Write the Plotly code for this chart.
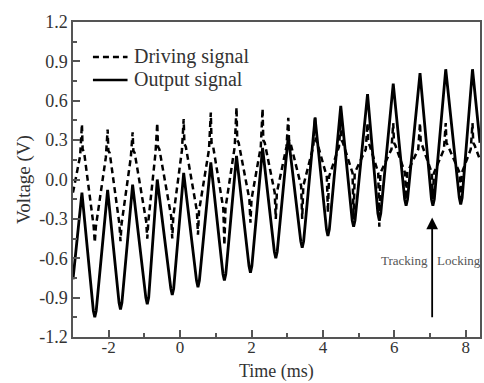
import plotly.graph_objects as go

# ---- data ----
out_t = [-3.0, -2.75, -2.43, -2.39, -2.35, -2.03, -1.71, -1.67, -1.63, -1.33, -0.96, -0.92, -0.88,
         -0.64, -0.26, -0.22, -0.18, 0.10, 0.46, 0.50, 0.54, 0.86,
         1.20, 1.24, 1.28, 1.58, 1.93, 1.97, 2.01, 2.31, 2.64, 2.68, 2.72, 3.03, 3.38, 3.42, 3.46,
         3.78, 4.10, 4.14, 4.18, 4.50, 4.82, 4.86, 4.90, 5.25, 5.54, 5.58, 5.62,
         5.97, 6.29, 6.33, 6.37, 6.72, 7.04, 7.08, 7.12, 7.44, 7.82, 7.86, 7.90, 8.19, 8.40]
out_v = [-0.76, -0.10, -1.00, -1.05, -1.00, -0.08, -0.94, -0.99, -0.94, -0.04, -0.90, -0.95, -0.90,
         0.00, -0.83, -0.88, -0.83, 0.05, -0.77, -0.82, -0.77, 0.13,
         -0.72, -0.77, -0.72, 0.18, -0.66, -0.71, -0.66, 0.24, -0.55, -0.60, -0.55, 0.33, -0.47, -0.52, -0.47,
         0.47, -0.38, -0.43, -0.38, 0.56, -0.31, -0.36, -0.31, 0.65, -0.26, -0.31, -0.26,
         0.73, -0.15, -0.20, -0.15, 0.81, -0.15, -0.20, -0.15, 0.84, -0.14, -0.19, -0.14, 0.84, 0.28]

drive_t = [-3.00,
           -2.80, -2.75, -2.73, -2.69, -2.42, -2.39, -2.36,
           -2.08, -2.03, -2.01, -1.97, -1.70, -1.67, -1.64,
           -1.38, -1.33, -1.31, -1.27, -0.95, -0.92, -0.89,
           -0.69, -0.64, -0.62, -0.58, -0.25, -0.22, -0.19,
           0.05, 0.10, 0.12, 0.16, 0.47, 0.50, 0.53,
           0.81, 0.86, 0.88, 0.92, 1.21, 1.24, 1.27,
           1.53, 1.58, 1.60, 1.64, 1.94, 1.97, 2.00,
           2.26, 2.31, 2.33, 2.37, 2.65, 2.68, 2.71,
           2.98, 3.03, 3.05, 3.09, 3.39, 3.42, 3.45,
           3.73, 3.78, 3.80, 3.84, 4.11, 4.14, 4.17,
           4.45, 4.50, 4.52, 4.56, 4.83, 4.86, 4.89,
           5.20, 5.25, 5.27, 5.31, 5.55, 5.58, 5.61,
           5.92, 5.97, 5.99, 6.03, 6.30, 6.33, 6.36,
           6.67, 6.72, 6.74, 6.78, 7.05, 7.08, 7.11,
           7.39, 7.44, 7.46, 7.50, 7.83, 7.86, 7.89,
           8.14, 8.19, 8.21, 8.25, 8.40]
drive_v = [-0.10,
           0.18, 0.42, 0.23, 0.21, -0.36, -0.48, -0.36,
           0.17, 0.38, 0.22, 0.20, -0.34, -0.47, -0.34,
           0.17, 0.36, 0.22, 0.20, -0.32, -0.45, -0.32,
           0.20, 0.43, 0.25, 0.23, -0.28, -0.45, -0.28,
           0.22, 0.46, 0.27, 0.25, -0.24, -0.42, -0.24,
           0.23, 0.51, 0.28, 0.26, -0.22, -0.50, -0.22,
           0.25, 0.55, 0.30, 0.28, -0.15, -0.33, -0.15,
           0.25, 0.54, 0.30, 0.28, -0.10, -0.30, -0.10,
           0.25, 0.47, 0.30, 0.28, -0.05, -0.30, -0.05,
           0.25, 0.48, 0.30, 0.28, 0.02, -0.25, 0.02,
           0.25, 0.45, 0.30, 0.28, 0.05, -0.30, 0.05,
           0.23, 0.43, 0.28, 0.26, 0.05, -0.36, 0.05,
           0.23, 0.43, 0.28, 0.26, 0.05, -0.15, 0.05,
           0.23, 0.43, 0.28, 0.26, 0.05, -0.15, 0.05,
           0.23, 0.43, 0.28, 0.26, 0.05, -0.15, 0.05,
           0.23, 0.43, 0.28, 0.26, 0.15]

series_names = ["Driving signal", "Output signal"]

x_tickvals = [-2, 0, 2, 4, 6, 8]
x_ticktext = ["-2", "0", "2", "4", "6", "8"]
x_minor = [-3, -1, 1, 3, 5, 7]
y_tickvals = [-1.2, -0.9, -0.6, -0.3, 0.0, 0.3, 0.6, 0.9, 1.2]
y_ticktext = ["-1.2", "-0.9", "-0.6", "-0.3", "0.0", "0.3", "0.6", "0.9", "1.2"]
y_minor = [-1.05, -0.75, -0.45, -0.15, 0.15, 0.45, 0.75, 1.05]

arrow_t = 7.06
arrow_from = -1.06
arrow_to = -0.29

FONT = "Liberation Serif, Times New Roman, serif"
TXT = "#333"

fig = go.Figure()
fig.add_trace(go.Scatter(x=drive_t, y=drive_v, mode="lines", name=series_names[0],
                         line=dict(color="black", width=2.5, dash="6px,4px"), showlegend=False))
fig.add_trace(go.Scatter(x=out_t, y=out_v, mode="lines", name=series_names[1],
                         line=dict(color="black", width=2.8), showlegend=False))

# legend (drawn as paper-referenced shapes + text)
leg_x0, leg_x1, leg_tx = 0.049, 0.134, 0.144
leg_rows = [0.889, 0.816]
leg_dash = ["6px,4px", "solid"]
for name, yy, dsh in zip(series_names, leg_rows, leg_dash):
    fig.add_shape(type="line", xref="paper", yref="paper", x0=leg_x0, x1=leg_x1, y0=yy, y1=yy,
                  line=dict(color="black", width=2.5, dash=dsh))
    fig.add_annotation(xref="paper", yref="paper", x=leg_tx, y=yy, text=name, showarrow=False,
                       xanchor="left", yanchor="middle",
                       font=dict(family=FONT, size=20, color=TXT))

fig.add_annotation(x=arrow_t, y=arrow_to, ax=arrow_t, ay=arrow_from, xref="x", yref="y",
                   axref="x", ayref="y", showarrow=True, arrowhead=2, arrowsize=1.3,
                   arrowwidth=1.8, arrowcolor="black", text="")
fig.add_annotation(x=arrow_t - 0.07, y=-0.62, text="Tracking", showarrow=False,
                   xanchor="right", font=dict(family=FONT, size=13, color="#555"))
fig.add_annotation(x=arrow_t + 0.07, y=-0.62, text="Locking", showarrow=False,
                   xanchor="left", font=dict(family=FONT, size=13, color="#555"))

# x-axis title (bottom edge at the figure's bottom)
fig.add_annotation(xref="paper", yref="paper", x=0.5, y=-0.145, text="Time (ms)",
                   showarrow=False, xanchor="center", yanchor="bottom", borderpad=0,
                   font=dict(family=FONT, size=18, color=TXT))

axis_common = dict(showline=True, linecolor="#555", linewidth=1.5, mirror=True,
                   showgrid=False, zeroline=False, ticks="inside", ticklen=7,
                   tickwidth=1.5, tickcolor="#555",
                   tickfont=dict(family=FONT, size=18, color=TXT))
fig.update_xaxes(range=[-3, 8.4], tickmode="array", tickvals=x_tickvals, ticktext=x_ticktext,
                 minor=dict(tickmode="array", tickvals=x_minor, ticks="inside", ticklen=4,
                            tickwidth=1.5, tickcolor="#555"),
                 ticklabelstandoff=-6,
                 **axis_common)
fig.update_xaxes(tickfont=dict(family=FONT, size=17, color=TXT))
fig.update_yaxes(range=[-1.2, 1.2], tickmode="array", tickvals=y_tickvals, ticktext=y_ticktext,
                 minor=dict(tickmode="array", tickvals=y_minor, ticks="inside", ticklen=4,
                            tickwidth=1.5, tickcolor="#555"),
                 title=dict(text="Voltage (V)", font=dict(family=FONT, size=19, color=TXT),
                            standoff=4),
                 **axis_common)

fig.update_layout(width=484, height=383, margin=dict(l=73, r=2, t=22, b=46),
                  plot_bgcolor="white", paper_bgcolor="white", showlegend=False)

fig.write_html("out.html")
